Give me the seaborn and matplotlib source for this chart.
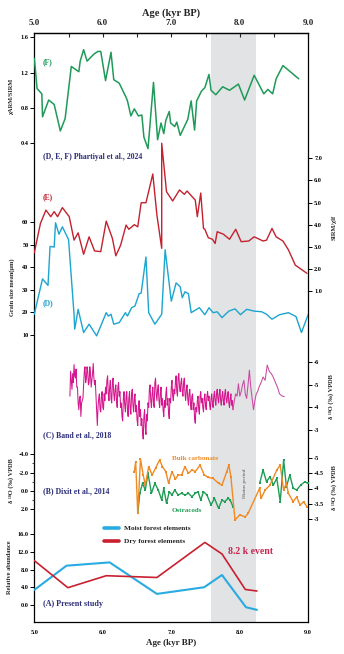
import numpy as np
import pandas as pd
import matplotlib
matplotlib.use("Agg")
import matplotlib.pyplot as plt
import seaborn as sns

# ---------------- data ----------------
F_age = [5.00,5.02,5.04,5.11,5.12,5.21,5.29,5.38,5.45,5.54,5.65,5.67,5.72,5.77,5.87,5.93,5.97,6.04,6.12,6.16,
         6.24,6.34,6.36,6.41,6.46,6.52,6.57,6.60,6.66,6.74,6.80,6.85,6.89,6.92,6.97,6.99,7.05,7.08,7.13,7.24,
         7.29,7.34,7.37,7.44,7.49,7.55,7.58,7.65,7.75,7.85,7.98,8.07,8.21,8.35,8.41,8.48,8.53,8.63,8.86]
F_val = [1.36,1.20,1.02,0.96,0.70,0.89,0.84,0.54,0.68,1.27,1.21,1.33,1.46,1.33,1.41,1.44,1.44,1.11,1.43,1.12,
         1.08,0.92,0.88,0.71,0.79,0.71,0.72,0.47,0.34,1.09,0.44,0.63,0.51,0.66,0.76,0.63,0.59,0.64,0.49,0.67,
         0.88,0.55,0.88,0.99,1.03,1.18,1.00,0.95,1.04,1.00,1.07,0.89,1.17,0.96,1.01,0.96,1.13,1.28,1.13]

E_age = [5.00,5.09,5.17,5.24,5.29,5.34,5.41,5.51,5.58,5.64,5.72,5.80,5.88,5.97,6.05,6.14,6.19,6.26,6.34,6.38,
         6.46,6.51,6.56,6.63,6.73,6.79,6.86,6.86,6.93,7.02,7.12,7.19,7.23,7.35,7.38,7.43,7.47,7.49,7.54,7.60,
         7.64,7.67,7.76,7.85,7.94,8.02,8.13,8.21,8.34,8.39,8.47,8.53,8.63,8.71,8.81,8.98]
E_val = [2.73,4.06,4.66,4.36,4.59,4.36,4.77,4.36,3.30,3.63,2.66,3.45,2.81,2.78,4.16,3.38,2.59,3.07,3.98,3.79,
         4.00,3.90,4.99,4.99,6.29,4.43,2.93,7.68,5.49,5.07,5.57,5.37,5.52,5.11,4.36,5.43,3.83,3.79,3.41,3.34,
         3.15,3.68,3.57,3.34,3.79,3.23,3.26,3.45,3.26,3.30,3.83,3.45,3.26,2.86,2.17,1.80]

D_age = [5.00,5.05,5.12,5.20,5.23,5.29,5.31,5.36,5.41,5.50,5.58,5.59,5.64,5.72,5.80,5.91,6.05,6.08,6.12,6.16,
         6.24,6.33,6.36,6.42,6.47,6.53,6.56,6.63,6.67,6.76,6.86,6.91,7.00,7.07,7.13,7.16,7.20,7.25,7.29,7.41,
         7.49,7.55,7.61,7.67,7.74,7.84,7.93,8.01,8.10,8.21,8.32,8.39,8.47,8.58,8.71,8.82,8.90,9.00]
D_val = [19.2,25.8,34.9,32.0,49.3,49.0,59.8,54.7,58.0,52.3,19.2,12.6,21.4,11.1,14.8,9.6,19.9,18.4,19.2,14.8,
         15.5,19.9,18.4,22.1,22.9,28.3,28.6,44.6,19.9,14.8,19.2,47.8,25.0,33.1,31.4,26.5,29.2,28.3,19.9,22.1,
         19.0,22.1,19.9,20.3,17.7,20.6,21.6,19.0,21.4,20.6,20.3,19.2,17.0,19.0,19.9,18.2,11.1,19.2]

C_age = [5.52,5.53,5.54,5.55,5.56,5.57,5.58,5.59,5.60,5.61,5.62,5.63,5.64,5.65,5.66,5.67,5.68,5.69,5.70,5.71,
         5.72,5.73,5.74,5.75,5.76,5.77,5.78,5.79,5.80,5.81,5.82,5.83,5.84,5.85,5.86,5.87,5.88,5.89,5.90,5.91,
         5.92,5.93,5.94,5.95,5.96,5.97,5.98,5.99,6.00,6.01,6.02,6.03,6.04,6.05,6.06,6.07,6.08,6.09,6.10,6.11,
         6.12,6.13,6.14,6.15,6.16,6.17,6.18,6.19,6.20,6.21,6.22,6.23,6.24,6.25,6.26,6.27,6.28,6.29,6.30,6.31,
         6.32,6.33,6.34,6.35,6.36,6.37,6.38,6.39,6.40,6.41,6.42,6.43,6.44,6.45,6.46,6.47,6.48,6.49,6.50,6.51,
         6.52,6.53,6.54,6.55,6.56,6.57,6.58,6.59,6.60,6.61,6.62,6.63,6.64,6.65,6.66,6.67,6.68,6.69,6.70,6.71,
         6.72,6.73,6.74,6.75,6.76,6.77,6.78,6.79,6.80,6.81,6.82,6.83,6.84,6.85,6.86,6.87,6.88,6.89,6.90,6.91,
         6.92,6.93,6.94,6.95,6.96,6.97,6.98,6.99,7.00,7.01,7.02,7.03,7.04,7.05,7.06,7.07,7.08,7.09,7.10,7.11,
         7.12,7.13,7.14,7.15,7.16,7.17,7.18,7.19,7.20,7.21,7.22,7.23,7.24,7.25,7.26,7.27,7.28,7.29,7.30,7.31,
         7.32,7.33,7.34,7.35,7.36,7.37,7.38,7.39,7.40,7.41,7.42,7.43,7.44,7.45,7.46,7.47,7.48,7.49,7.50,7.51,
         7.52,7.53,7.54,7.55,7.56,7.57,7.58,7.59,7.60,7.61,7.62,7.63,7.64,7.65,7.66,7.67,7.68,7.69,7.70,7.71,
         7.72,7.73,7.74,7.75,7.76,7.77,7.78,7.79,7.80,7.81,7.82,7.83,7.84,7.85,7.86,7.87,7.88,7.89,7.90]
C_val = [-4.5,-5.6,-5.2,-4.8,-5.5,-5.1,-5.9,-5.4,-5.3,-5.7,
         -4.9,-4.9,-4.2,-3.9,-4.4,-4.5,-3.6,-4.2,-4.3,-4.4,
         -5.0,-5.6,-5.8,-5.1,-5.3,-5.8,-5.6,-5.0,-5.1,-5.8,
         -5.5,-4.9,-5.2,-5.5,-5.95,-5.3,-5.0,-5.2,-4.5,-3.7,
         -3.2,-4.0,-4.4,-4.6,-3.9,-3.8,-4.5,-4.7,-4.0,-3.9,
         -4.6,-4.3,-4.9,-4.6,-5.2,-5.4,-4.6,-4.3,-4.9,-5.2,
         -4.4,-4.2,-5.1,-5.3,-4.6,-4.3,-4.8,-5.0,-4.3,-4.0,
         -4.9,-5.1,-4.5,-4.7,-4.0,-4.2,-3.6,-3.4,-4.4,-4.7,
         -4.1,-3.8,-4.5,-4.7,-3.9,-3.6,-4.4,-4.7,-3.9,-3.7,
         -4.6,-4.8,-4.1,-3.8,-4.4,-4.6,-3.8,-4.1,-3.45,-3.2,
         -4.0,-4.3,-3.6,-3.9,-3.2,-3.5,-2.9,-2.6,-3.6,-3.9,
         -3.1,-2.8,-3.7,-3.4,-4.2,-4.0,-4.8,-5.0,-4.3,-4.0,
         -4.6,-4.9,-4.2,-4.0,-5.1,-5.3,-4.6,-4.3,-4.8,-5.0,
         -4.3,-4.0,-4.6,-4.9,-4.1,-4.4,-3.9,-3.6,-4.3,-4.0,
         -4.6,-4.9,-4.1,-4.4,-3.75,-3.5,-4.4,-4.2,-4.9,-5.2,
         -4.5,-4.3,-4.8,-4.6,-5.1,-5.4,-4.7,-4.5,-5.35,-5.5,
         -4.9,-4.7,-5.1,-5.3,-4.7,-4.5,-5.1,-5.3,-4.6,-4.3,
         -4.8,-5.0,-4.4,-4.1,-4.6,-4.8,-4.2,-3.9,-4.5,-4.6,
         -3.9,-4.2,-3.5,-3.3,-4.0,-3.8,-4.3,-4.5,-3.9,-3.7,
         -4.5,-4.7,-4.2,-4.4,-4.0,-3.8,-4.4,-4.6,-4.1,-3.9,
         -4.5,-4.7,-4.3,-4.5,-4.1,-3.9,-4.4,-4.6,-4.2,-4.0,
         -4.5,-4.7,-4.3,-4.1,-4.6,-4.8,-4.4,-4.2,-4.6,-4.8,
         -4.3,-4.1,-4.5,-4.7,-4.3,-4.1,-4.6,-4.8,-4.4,-4.2,
         -4.5,-4.7,-4.2,-4.0,-4.4,-4.6,-4.1,-4.3,-3.9]
C2_age = [7.90,7.92,7.94,7.96,7.98,8.00,8.02,8.04,8.06,8.08,8.10,8.12,8.14,8.16,8.18,8.20,8.22,8.24,8.26,8.28,
          8.31,8.34,8.37,8.40,8.43,8.46,8.49,8.52,8.55,8.58,8.62,8.65]
C2_val = [-3.9,-4.3,-4.6,-4.5,-5.05,-4.5,-4.7,-5.0,-5.2,-4.6,-4.4,-5.0,-5.65,-4.9,-4.4,-3.9,-4.3,-4.6,-4.7,-4.9,
          -5.1,-5.35,-5.2,-5.88,-5.6,-5.5,-5.33,-5.1,-4.9,-4.6,-4.5,-4.48]

Bulk_age = [6.46,6.48,6.51,6.55,6.59,6.62,6.67,6.72,6.77,6.83,6.87,6.92,6.96,7.01,7.06,7.10,7.15,7.20,7.25,7.30,
            7.35,7.42,7.48,7.54,7.61,7.69,7.74,7.81,7.84,7.87,7.93,8.00,8.08,8.12,8.29,8.31,8.37,8.44,8.54,8.59,
            8.64,8.68,8.71,8.78,8.83,8.88,8.93,8.98]
Bulk_val = [-4.55,-4.87,-3.19,-4.95,-4.44,-4.11,-4.71,-4.44,-4.66,-4.93,-4.71,-4.55,-4.17,-4.55,-4.30,-4.44,-4.44,
            -4.71,-4.49,-4.60,-4.55,-4.76,-4.44,-4.36,-4.33,-4.17,-4.11,-4.55,-4.76,-4.38,-2.98,-3.14,-3.08,-3.19,
            -4.01,-3.68,-3.95,-4.11,-4.60,-4.76,-3.95,-4.17,-3.84,-3.57,-3.73,-3.46,-3.57,-3.41]

Ost1_age = [6.51,6.54,6.58,6.62,6.66,6.71,6.76,6.81,6.86,6.89,6.93,6.97,7.01,7.05,7.10,7.15,7.20,7.25,7.30,7.35,
            7.39,7.43,7.47,7.52,7.58,7.63,7.69,7.74,7.78,7.83,7.86,7.90]
Ost1_val = [2.44,0.25,-0.84,-0.11,-1.93,0.25,-0.84,-0.11,0.99,-0.29,1.35,0.08,0.44,-0.11,0.44,0.25,0.44,0.25,0.63,
            0.25,0.08,0.99,0.08,0.44,1.53,0.80,1.89,0.99,1.17,0.80,0.99,1.72]
Ost2_age = [8.29,8.34,8.39,8.44,8.49,8.54,8.59,8.64,8.68,8.73,8.78,8.83,8.89,8.95,8.99]
Ost2_val = [-0.84,-2.29,-1.01,-1.56,-0.65,-1.38,1.17,-3.38,-0.47,-1.74,-0.29,-0.11,-0.65,-1.01,-0.84]

A_age_moist = [5.00,5.47,6.10,6.79,7.48,7.74,8.09,8.25]
A_moist = [3.4,8.86,9.6,2.5,4.0,6.76,-0.5,-1.1]
A_age_dry = [5.00,5.49,6.05,6.79,7.49,7.74,8.08,8.25]
A_dry = [10.0,3.9,6.6,6.2,14.1,11.5,3.5,3.15]

event_span = (7.58, 8.24)
age_ticks = [5, 6, 7, 8, 9]
age_ticklabels = ["5.0", "6.0", "7.0", "8.0", "9.0"]

# ---------------- style ----------------
sns.set_theme(style="white")
plt.rcParams["font.family"] = ["Liberation Serif", "DejaVu Serif"]
plt.rcParams["font.weight"] = "bold"
plt.rcParams["axes.labelweight"] = "bold"
plt.rcParams["mathtext.fontset"] = "dejavuserif"

W, H = 344, 654
fig = plt.figure(figsize=(W / 100, H / 100), dpi=100)

PXL, PXR, PYT, PYB = 34.3, 308.3, 33.0, 621.7
rect = [PXL / W, 1 - PYB / H, (PXR - PXL) / W, (PYB - PYT) / H]

def fx(px):
    return px / W

def fy(py):
    return 1 - py / H

NAVY = "#2b2d78"

ax = fig.add_axes(rect)
ax.set_xlim(5, 9)
ax.set_ylim(0, 1)
ax.set_yticks([])
for s in ax.spines.values():
    s.set_color("black")
    s.set_linewidth(0.9)
ax.axvspan(*event_span, color="#e2e3e5", lw=0, zorder=0)
ax.set_xticks(age_ticks)
ax.set_xticklabels(age_ticklabels)
ax.set_xticks([5.5, 6.5, 7.5, 8.5], minor=True)
ax.tick_params(axis="x", which="both", direction="in", length=3, width=0.8,
               labelsize=4.5, pad=6, colors="black")
ax.set_xlabel("Age (kyr BP)", fontsize=6.5, fontweight="bold", labelpad=3)
sec = ax.secondary_xaxis("top")
sec.set_xticks(age_ticks)
sec.set_xticklabels(age_ticklabels)
sec.set_xticks([5.5, 6.5, 7.5, 8.5], minor=True)
sec.tick_params(axis="x", which="both", direction="in", length=3, width=0.8,
                labelsize=6.5, pad=4.5)
sec.set_xlabel("Age (kyr BP)", fontsize=7.5, fontweight="bold", labelpad=2.0)
sec.spines["top"].set_linewidth(0.9)


def layer(py1, v1, py2, v2, side, ticks, labels, minor=None):
    a = fig.add_axes(rect, sharex=ax)
    a.patch.set_visible(False)
    for s in a.spines.values():
        s.set_visible(False)
    slope = (v2 - v1) / (py2 - py1)
    a.set_ylim(v1 + (PYB - py1) * slope, v1 + (PYT - py1) * slope)
    a.tick_params(axis="x", which="both", bottom=False, top=False,
                  labelbottom=False, labeltop=False)
    if side == "right":
        a.yaxis.tick_right()
    else:
        a.yaxis.tick_left()
    a.set_yticks(ticks)
    a.set_yticklabels(labels)
    if minor is not None:
        a.set_yticks(minor, minor=True)
    a.tick_params(axis="y", which="major", direction="out", length=3, width=0.7,
                  labelsize=4.5, pad=1.2, colors="black")
    a.tick_params(axis="y", which="minor", direction="out", length=1.8, width=0.6)
    a.set_xlabel("")
    a.set_ylabel("")
    return a


def draw(a, x, y, color, lw, **kw):
    sns.lineplot(x=x, y=y, ax=a, color=color, lw=lw, sort=False,
                 estimator=None, legend=False, **kw)
    a.set_xlabel("")
    a.set_ylabel("")

# (F)
aF = layer(143.3, 0.4, 37.3, 1.6, "left", [0.4, 0.8, 1.2, 1.6], ["0.4", "0.8", "1.2", "1.6"])
draw(aF, F_age, F_val, "#1f9a58", 1.1)
# (E)
aE = layer(158.3, 7.0, 291.0, 1.0, "right", [1, 2, 3, 4, 5, 6, 7],
           ["1.0", "2.0", "3.0", "4.0", "5.0", "6.0", "7.0"])
draw(aE, E_age, E_val, "#c4212f", 1.0)
# (D)
aD = layer(222.3, 60, 335.0, 10, "left", [10, 20, 30, 40, 50, 60],
           ["10", "20", "30", "40", "50", "60"])
draw(aD, D_age, D_val, "#1ba5cf", 1.0)
# (C)
aC = layer(362.3, -6, 430.0, -3, "right", [-6, -5, -4, -3], ["-6", "-5", "-4", "-3"])
draw(aC, C_age, C_val, "#d5168d", 0.75)
draw(aC, C2_age, C2_val, "#c94aa2", 0.75)
# (B)
aB1 = layer(454.3, -4, 509.3, 2, "left", [-4, -2, 0, 2], ["-4.0", "-2.0", "0.0", "2.0"],
            minor=[-3, -1, 1])
draw(aB1, Ost1_age, Ost1_val, "#1f9d55", 1.0, marker="s", markersize=1.6, markeredgewidth=0)
draw(aB1, Ost2_age, Ost2_val, "#1f9d55", 1.0, marker="s", markersize=1.6, markeredgewidth=0)
aB2 = layer(457.7, -5, 519.3, -3, "right", [-5, -4.5, -4, -3.5, -3],
            ["-5", "-4.5", "-4", "-3.5", "-3"])
draw(aB2, Bulk_age, Bulk_val, "#f08a24", 1.0, marker="s", markersize=1.6, markeredgewidth=0)
# (A)
aA = layer(605.0, 0, 534.0, 16, "left", [0, 4, 8, 12, 16], ["0.0", "4.0", "8.0", "12.0", "16.0"])
sns.lineplot(x=A_age_moist, y=A_moist, ax=aA, color="#29abe2", lw=1.5, sort=False,
             estimator=None, label="Moist forest elements")
sns.lineplot(x=A_age_dry, y=A_dry, ax=aA, color="#c8202f", lw=1.2, sort=False,
             estimator=None, label="Dry forest elements")
aA.set_xlabel("")
aA.set_ylabel("")
leg = aA.legend(loc="upper left", bbox_to_anchor=(fx(104), fy(525)),
                bbox_transform=fig.transFigure, frameon=False, fontsize=5.3,
                handlelength=2.0, handletextpad=0.7, labelspacing=0.95,
                borderpad=0, borderaxespad=0)
for ln in leg.get_lines():
    ln.set_linewidth(2.6)

# ---------------- texts ----------------
def t(px, py, s, **kw):
    fig.text(fx(px), fy(py), s, **kw)

t(43, 62, "(F)", color="#1f9a58", fontsize=5.5, va="center", ha="left", fontweight="bold")
t(43, 157, "(D, E, F) Phartiyal et al., 2024", color=NAVY, fontsize=5.6, va="center", ha="left", fontweight="bold")
t(43, 197, "(E)", color="#c4212f", fontsize=5.5, va="center", ha="left", fontweight="bold")
t(43, 303, "(D)", color="#1ba5cf", fontsize=5.5, va="center", ha="left", fontweight="bold")
t(43, 435, "(C) Band et al., 2018", color=NAVY, fontsize=5.6, va="center", ha="left", fontweight="bold")
t(43, 491, "(B) Dixit et al., 2014", color=NAVY, fontsize=5.6, va="center", ha="left", fontweight="bold")
t(43, 604, "(A) Present study", color=NAVY, fontsize=5.8, va="center", ha="left", fontweight="bold")
t(172, 459, "Bulk carbonate", color="#f08a24", fontsize=5.0, va="center", ha="left", fontweight="bold")
t(172, 511, "Ostracods", color="#1f9d55", fontsize=5.0, va="center", ha="left", fontweight="bold")
t(245, 483, "Hiatus period", color="#7a7a7a", fontsize=3.6, va="center", ha="center", rotation=90)
t(228, 552, "8.2 k event", color="#c8254f", fontsize=7.0, va="center", ha="left", fontweight="bold")

t(12, 97, "χARM/SIRM", fontsize=4.6, rotation=90, va="center", ha="center", fontweight="bold")
t(12, 287, "Grain size mean(μm)", fontsize=4.6, rotation=90, va="center", ha="center", fontweight="bold")
t(11, 481, "δ ¹⁸O (‰) VPDB", fontsize=4.6, rotation=90, va="center", ha="center", fontweight="bold")
t(10, 567, "Relative abundance", fontsize=4.6, rotation=90, va="center", ha="center", fontweight="bold")
t(334, 227, "SIRM/χlf", fontsize=4.6, rotation=90, va="center", ha="center", fontweight="bold")
t(331, 397, "δ ¹⁸O (‰) VPDB", fontsize=4.6, rotation=90, va="center", ha="center", fontweight="bold")
t(334, 488, "δ ¹⁸O (‰) VPDB", fontsize=4.6, rotation=90, va="center", ha="center", fontweight="bold")

fig.savefig("out.png", dpi=100)
